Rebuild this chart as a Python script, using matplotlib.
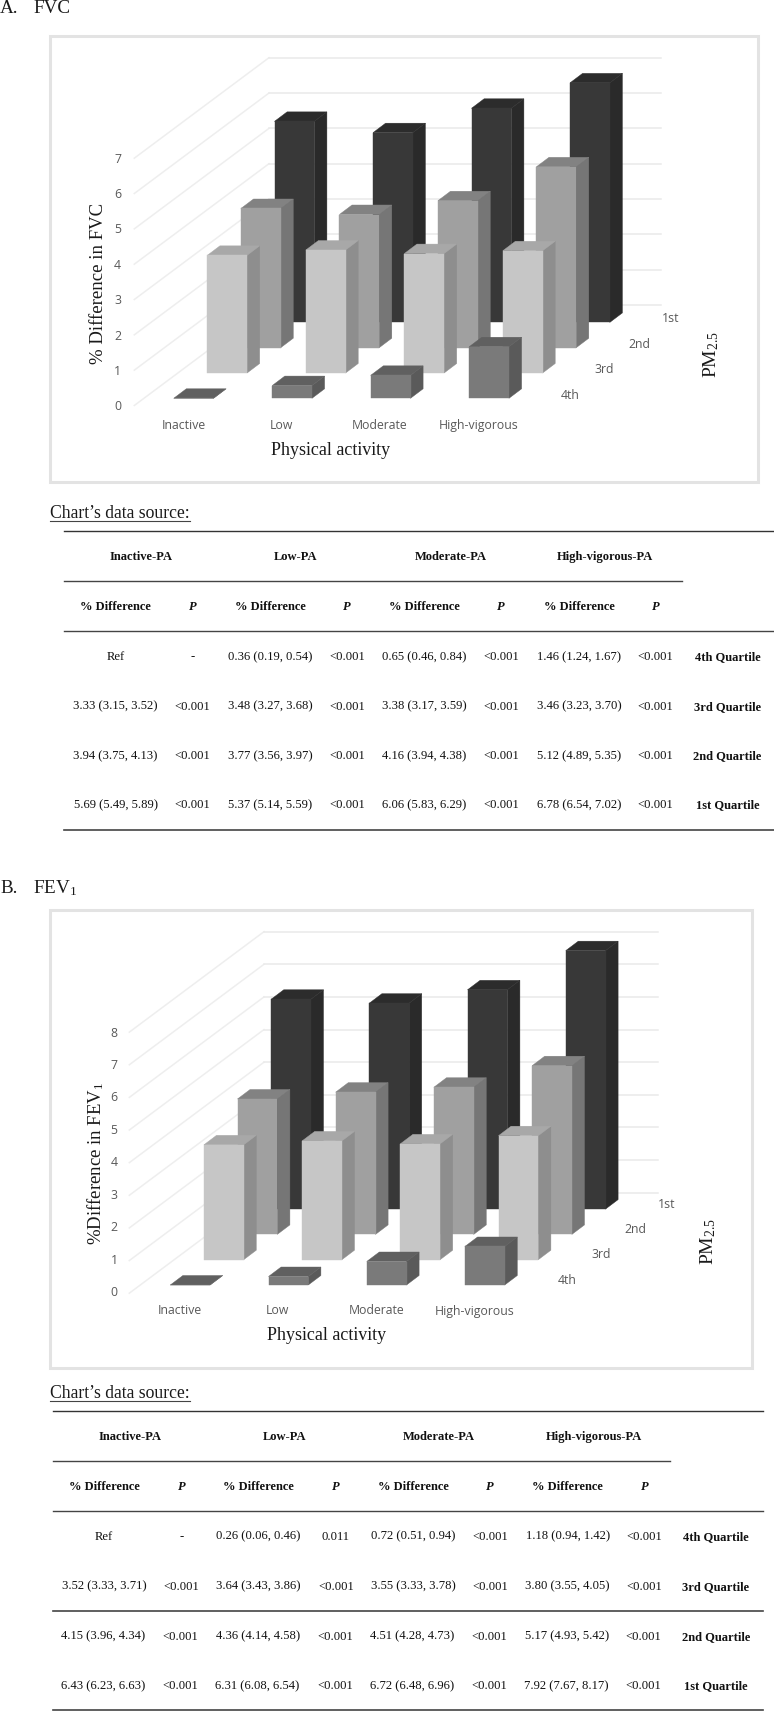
import matplotlib
matplotlib.use('Agg')
import matplotlib.pyplot as plt
from matplotlib.patches import Polygon, Rectangle

plt.rcParams['mathtext.fontset'] = 'custom'
plt.rcParams['mathtext.rm'] = 'Liberation Serif'
plt.rcParams['mathtext.it'] = 'Liberation Serif:italic'
plt.rcParams['mathtext.bf'] = 'Liberation Serif:bold'

SERIF = 'Liberation Serif'
SANS = 'Open Sans'

activity = ['Inactive', 'Low', 'Moderate', 'High-vigorous']
quartiles = ['1st', '2nd', '3rd', '4th']
quartile_rows = ['4th Quartile', '3rd Quartile', '2nd Quartile', '1st Quartile']
table_groups = ['Inactive-PA', 'Low-PA', 'Moderate-PA', 'High-vigorous-PA']

# bar heights, one list per PM2.5 quartile
fvc_1st = [5.69, 5.37, 6.06, 6.78]
fvc_2nd = [3.94, 3.77, 4.16, 5.12]
fvc_3rd = [3.33, 3.48, 3.38, 3.46]
fvc_4th = [0, 0.36, 0.65, 1.46]

fev_1st = [6.43, 6.31, 6.72, 7.92]
fev_2nd = [4.15, 4.36, 4.51, 5.17]
fev_3rd = [3.52, 3.64, 3.55, 3.80]
fev_4th = [0, 0.26, 0.72, 1.18]

# table cells, rows run 4th to 1st quartile
fvc_diff = [
    ['Ref', '0.36 (0.19, 0.54)', '0.65 (0.46, 0.84)', '1.46 (1.24, 1.67)'],
    ['3.33 (3.15, 3.52)', '3.48 (3.27, 3.68)', '3.38 (3.17, 3.59)', '3.46 (3.23, 3.70)'],
    ['3.94 (3.75, 4.13)', '3.77 (3.56, 3.97)', '4.16 (3.94, 4.38)', '5.12 (4.89, 5.35)'],
    ['5.69 (5.49, 5.89)', '5.37 (5.14, 5.59)', '6.06 (5.83, 6.29)', '6.78 (6.54, 7.02)'],
]
fvc_p = [
    ['-', '<0.001', '<0.001', '<0.001'],
    ['<0.001', '<0.001', '<0.001', '<0.001'],
    ['<0.001', '<0.001', '<0.001', '<0.001'],
    ['<0.001', '<0.001', '<0.001', '<0.001'],
]
fev_diff = [
    ['Ref', '0.26 (0.06, 0.46)', '0.72 (0.51, 0.94)', '1.18 (0.94, 1.42)'],
    ['3.52 (3.33, 3.71)', '3.64 (3.43, 3.86)', '3.55 (3.33, 3.78)', '3.80 (3.55, 4.05)'],
    ['4.15 (3.96, 4.34)', '4.36 (4.14, 4.58)', '4.51 (4.28, 4.73)', '5.17 (4.93, 5.42)'],
    ['6.43 (6.23, 6.63)', '6.31 (6.08, 6.54)', '6.72 (6.48, 6.96)', '7.92 (7.67, 8.17)'],
]
fev_p = [
    ['-', '0.011', '<0.001', '<0.001'],
    ['<0.001', '<0.001', '<0.001', '<0.001'],
    ['<0.001', '<0.001', '<0.001', '<0.001'],
    ['<0.001', '<0.001', '<0.001', '<0.001'],
]

# front, side, top shade per quartile
shades = {
    '1st': ('#383838', '#2a2a2a', '#2c2c2c'),
    '2nd': ('#a0a0a0', '#767676', '#828282'),
    '3rd': ('#c6c6c6', '#8e8e8e', '#a8a8a8'),
    '4th': ('#7a7a7a', '#5a5a5a', '#606060'),
}

BAR_W = 39.8
DEPTH_X, DEPTH_Y = 12.6, 9.5
ROW_X, ROW_Y = 33.6, 25.3
WALL_X, WALL_Y = 134.7, 100.5

fig = plt.figure(figsize=(7.74, 17.11), dpi=100)
ax = fig.add_axes([0, 0, 1, 1])
ax.set_xlim(0, 774)
ax.set_ylim(1711, 0)
ax.axis('off')


def draw_bar(x, base, height, colors, z):
    top = base - height
    front, side, lid = colors
    ax.add_patch(Polygon([(x + BAR_W, base), (x + BAR_W + DEPTH_X, base - DEPTH_Y),
                          (x + BAR_W + DEPTH_X, top - DEPTH_Y), (x + BAR_W, top)],
                         closed=True, fc=side, ec=side, lw=0.3, zorder=z))
    ax.add_patch(Polygon([(x, top), (x + BAR_W, top), (x + BAR_W + DEPTH_X, top - DEPTH_Y),
                          (x + DEPTH_X, top - DEPTH_Y)],
                         closed=True, fc=lid, ec=lid, lw=0.3, zorder=z))
    ax.add_patch(Polygon([(x, base), (x + BAR_W, base), (x + BAR_W, top), (x, top)],
                         closed=True, fc=front, ec=front, lw=0.3, zorder=z))


def draw_chart(series, frame, x0, step, base, scale, wall, n_grid, tick_x, tick_y0, tick_step,
               cat_xs, cat_y, depth_pos, ylabel, ylabel_pos, xlabel_pos, pm_pos):
    # frame
    fx0, fy0, fx1, fy1 = frame
    ax.add_patch(Rectangle((fx0, fy0), fx1 - fx0, fy1 - fy0, fc='white', ec='#e3e3e3', lw=2.2, zorder=1))

    # walls
    wx, wy, wr = wall
    for v in range(n_grid + 1):
        gy = wy - v * scale
        ax.plot([wx - WALL_X, wx], [gy + WALL_Y, gy], color='#eeeeee', lw=1.1, zorder=2)
        ax.plot([wx, wr], [gy, gy], color='#eaeaea', lw=1.1, zorder=2)

    # bars, back row first
    for r, name in enumerate(quartiles):
        back = 3 - r
        for i, val in enumerate(series[r]):
            draw_bar(x0 + i * step + back * ROW_X, base - back * ROW_Y, val * scale, shades[name], 3 + r)

    for v in range(n_grid + 1):
        ax.text(tick_x, tick_y0 - v * tick_step, str(v), family=SANS, fontsize=8.8, color='#595959',
                ha='center', va='center', zorder=10)
    for name, cx in zip(activity, cat_xs):
        ax.text(cx, cat_y, name, family=SANS, fontsize=8.8, color='#595959', ha='center', va='center', zorder=10)
    for name, (dx, dy) in zip(quartiles, depth_pos):
        ax.text(dx, dy, name, family=SANS, fontsize=8.8, color='#595959', ha='center', va='center', zorder=10)

    ax.text(ylabel_pos[0], ylabel_pos[1], ylabel, family=SERIF, fontsize=13.5, color='#1a1a1a',
            rotation=90, ha='center', va='center', zorder=10)
    ax.text(xlabel_pos[0], xlabel_pos[1], 'Physical activity', family=SERIF, fontsize=13, color='#1a1a1a',
            ha='center', va='center', zorder=10)
    ax.text(pm_pos[0], pm_pos[1], r'PM$_{\mathrm{2.5}}$', family=SERIF, fontsize=14, color='#1a1a1a',
            rotation=90, ha='center', va='center', zorder=10)


def draw_table(top, mid, head, line_x0, line_x1, mid_x1, extra_line, source_y, underline_y, group_xs, diff_xs,
               p_xs, head_y, sub_y, row_ys, label_x, diff, pvals, shift_low):
    kw = dict(family=SERIF, color='#111111', ha='center', va='center', zorder=10)
    ax.text(50.3, source_y, 'Chart\u2019s data source:', family=SERIF, fontsize=12.7, color='#1a1a1a',
            ha='left', va='center')
    ax.plot([50.3, 190], [underline_y, underline_y], color='#444444', lw=0.8)

    ax.plot([line_x0, line_x1], [top, top], color='#333333', lw=1.0)
    ax.plot([line_x0, mid_x1], [mid, mid], color='#444444', lw=1.0)
    ax.plot([line_x0, line_x1], [head, head], color='#444444', lw=1.0)
    for ly in extra_line:
        ax.plot([line_x0, line_x1], [ly, ly], color='#444444', lw=1.2)

    for name, gx in zip(table_groups, group_xs):
        ax.text(gx, head_y, name, fontsize=9.0, fontweight='bold', **kw)
    for dx, px in zip(diff_xs, p_xs):
        ax.text(dx, sub_y, '% Difference', fontsize=9.0, fontweight='bold', **kw)
        ax.text(px, sub_y, 'P', fontsize=9.0, fontweight='bold', style='italic', **kw)
    for r, ry in enumerate(row_ys):
        off = shift_low if r >= 2 else 0
        for c in range(4):
            ax.text(diff_xs[c] + off, ry, diff[r][c], fontsize=9.1, **kw)
            ax.text(p_xs[c] + off, ry, pvals[r][c], fontsize=9.1, **kw)
        ax.text(label_x, ry, quartile_rows[r], fontsize=9.0, fontweight='bold', **kw)


# panel A
ax.text(0, 8, 'A.', family=SERIF, fontsize=13.8, color='#1a1a1a', ha='left', va='center')
ax.text(33, 8, 'FVC', family=SERIF, fontsize=13.8, color='#1a1a1a', ha='left', va='center')
draw_chart([fvc_1st, fvc_2nd, fvc_3rd, fvc_4th],
           (50.3, 36, 758, 481.7), 173.7, 98.5, 398.3, 35.33, (269, 305, 661.4), 7,
           117.5, 406.7, 35.35,
           [183.6, 281.8, 380, 478.3], 425,
           [(670.3, 318.3), (639.2, 344), (604.1, 369.3), (570.1, 395)],
           '% Difference in FVC', (98.7, 283), (330.7, 450), (711, 355))
draw_table(531.3, 581, 631.3, 64, 774, 682, [830.3], 514, 521,
           [141, 296, 450.6, 604.6], [115.5, 270, 424.5, 579], [192.5, 347, 501, 655.5],
           557, 607, [657, 706.7, 756, 805.3], 727.5, fvc_diff, fvc_p, 0)

# panel B
ax.text(0, 888, 'B.', family=SERIF, fontsize=13.8, color='#1a1a1a', ha='left', va='center')
ax.text(33, 888, r'FEV$_{\mathrm{1}}$', family=SERIF, fontsize=13.8, color='#1a1a1a', ha='left', va='center')
draw_chart([fev_1st, fev_2nd, fev_3rd, fev_4th],
           (50.3, 910, 752, 1368.3), 170.3, 98.2, 1285, 32.63, (264, 1192.7, 657.5), 8,
           114, 1292.7, 32.46,
           [179.7, 277.9, 376.6, 475], 1311,
           [(666.8, 1204.3), (635.7, 1229.7), (600.7, 1255), (567.1, 1280.3)],
           r'%Difference in FEV$_{\mathrm{1}}$', (96, 1163), (327, 1336), (708, 1241.7))
draw_table(1411.3, 1461, 1511.3, 52.8, 762.6, 670, [1610.7, 1710.3], 1393.3, 1400.6,
           [130, 285, 439, 594], [104, 258.6, 413, 567.6], [181.6, 336, 490, 644.6],
           1436.7, 1487, [1536.7, 1586.7, 1636.7, 1686.3], 716, fev_diff, fev_p, -1)

fig.savefig('out.png', dpi=100)
